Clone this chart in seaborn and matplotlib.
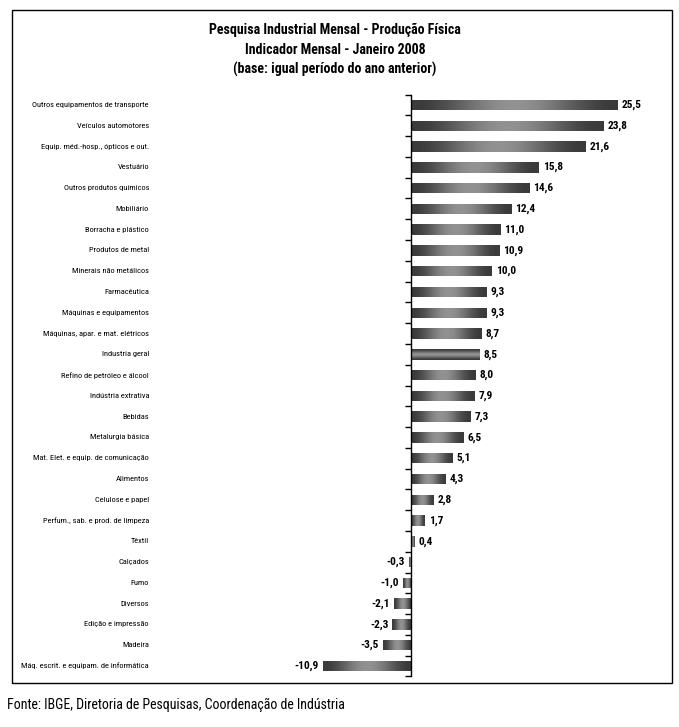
import numpy as np
import matplotlib
matplotlib.use("Agg")
import matplotlib.pyplot as plt
import seaborn as sns
from matplotlib import font_manager
from matplotlib.font_manager import FontProperties
from matplotlib.patches import Rectangle
from matplotlib.textpath import TextToPath
from matplotlib.transforms import blended_transform_factory

# Data
categories = [
    "Outros equipamentos de transporte", "Veículos automotores",
    "Equip. méd.-hosp., ópticos e out.", "Vestuário", "Outros produtos químicos",
    "Mobiliário", "Borracha e plástico", "Produtos de metal",
    "Minerais não metálicos", "Farmacêutica", "Máquinas e equipamentos",
    "Máquinas, apar. e mat. elétricos", "Industria geral",
    "Refino de petróleo e álcool", "Indústria extrativa", "Bebidas",
    "Metalurgia básica", "Mat. Elet. e equip. de comunicação", "Alimentos",
    "Celulose e papel", "Perfum., sab. e prod. de limpeza", "Têxtil",
    "Calçados", "Fumo", "Diversos", "Edição e impressão", "Madeira",
    "Máq. escrit. e equipam. de informática",
]
values = [25.5, 23.8, 21.6, 15.8, 14.6, 12.4, 11.0, 10.9, 10.0, 9.3, 9.3, 8.7,
          8.5, 8.0, 7.9, 7.3, 6.5, 5.1, 4.3, 2.8, 1.7, 0.4,
          -0.3, -1.0, -2.1, -2.3, -3.5, -10.9]
total_label = "Industria geral"

title_lines = ["Pesquisa Industrial Mensal - Produção Física",
               "Indicador Mensal - Janeiro 2008",
               "(base: igual período do ano anterior)"]
source = "Fonte: IBGE, Diretoria de Pesquisas, Coordenação de Indústria"


# pick a narrow face if one exists, else plain Arial-like
def pick_font():
    for name in ["Liberation Sans Narrow", "Arial Narrow", "DejaVu Sans Condensed",
                 "Roboto Condensed", "Open Sans Condensed", "Liberation Sans"]:
        try:
            font_manager.findfont(name, fallback_to_default=False)
            return name
        except ValueError:
            continue
    return "DejaVu Sans"


face = pick_font()
fams = [face, "DejaVu Sans"]
t2p = TextToPath()


# font size (pt) that makes the string about px pixels wide at 100 dpi
def size_for(s, px, weight="normal"):
    prop = FontProperties(family=fams, size=10, weight=weight)
    w, _, _ = t2p.get_text_width_height_descent(s, prop, ismath=False)
    return 10 * (px * 0.72) / w


sns.set_theme(style="white")
plt.rcParams["font.family"] = fams
plt.rcParams["text.color"] = "black"

fs_cat = size_for(categories[-1], 128)
fs_val = size_for("25,5", 20, "bold")
fs_title = size_for(title_lines[0], 252, "bold")
fs_src = size_for(source, 340)

W, H = 679, 727
fig = plt.figure(figsize=(W / 100, H / 100), dpi=100)

# zero line near x=411, ~8.1 px per unit
xmin, xmax = -12, 29
ppu = 8.1
left_px = 411 + xmin * ppu
width_px = (xmax - xmin) * ppu
top_px, bottom_px = 94.6, 676.4
ax = fig.add_axes([left_px / W, 1 - bottom_px / H, width_px / W, (bottom_px - top_px) / H])

sns.barplot(x=values, y=categories, orient="h", width=0.5, color="#555555", ax=ax)

# gradient fill on each bar (dark ends, light middle)
t = np.linspace(0, 1, 64)
shade = 0.23 + 0.34 * (0.5 - 0.5 * np.cos(2 * np.pi * t))
for i, p in enumerate(ax.patches):
    x0, y0, w, h = p.get_x(), p.get_y(), p.get_width(), p.get_height()
    img = shade.reshape(-1, 1) if categories[i] == total_label else shade.reshape(1, -1)
    p.set_facecolor("none")
    p.set_edgecolor("none")
    im = ax.imshow(img, cmap="gray", vmin=0, vmax=1, aspect="auto",
                   extent=[x0, x0 + w, y0 + h, y0], interpolation="bilinear", zorder=2)
    im.set_clip_path(p)

ax.set_xlim(xmin, xmax)
ax.set_ylim(len(categories) - 0.5, -0.5)

# value labels
for i, v in enumerate(values):
    txt = f"{v:.1f}".replace(".", ",")
    if v >= 0:
        ax.text(v + 0.5, i, txt, ha="left", va="center", fontsize=fs_val, fontweight="bold")
    else:
        ax.text(v - 0.5, i, txt, ha="right", va="center", fontsize=fs_val, fontweight="bold")

# category labels right-aligned far to the left of the axis
trans = blended_transform_factory(fig.transFigure, ax.transData)
for i, c in enumerate(categories):
    ax.text(149 / W, i, c, transform=trans, ha="right", va="center", fontsize=fs_cat)

# zero axis with small ticks between categories
for s in ["top", "right", "bottom"]:
    ax.spines[s].set_visible(False)
ax.spines["left"].set_position(("data", 0))
ax.spines["left"].set_color("black")
ax.spines["left"].set_linewidth(1)
ax.set_xticks([])
ax.set_yticks([])
ax.set_yticks(np.arange(-0.5, len(categories), 1), minor=True)
ax.tick_params(axis="y", which="minor", left=True, direction="out", length=4,
               width=1, color="black", labelleft=False)
ax.set_xlabel("")
ax.set_ylabel("")
ax.set_facecolor("none")

# titles
for k, line in enumerate(title_lines):
    fig.text(335 / W, 1 - (30 + 19.5 * k) / H, line, ha="center", va="center",
             fontsize=fs_title, fontweight="bold")

# outer frame
fig.patches.append(Rectangle((12 / W, 1 - 683 / H), 660 / W, 673 / H,
                             transform=fig.transFigure, fill=False,
                             edgecolor="black", linewidth=1))

fig.text(7 / W, 1 - 705 / H, source, ha="left", va="center", fontsize=fs_src)

fig.savefig("out.png", dpi=100)
